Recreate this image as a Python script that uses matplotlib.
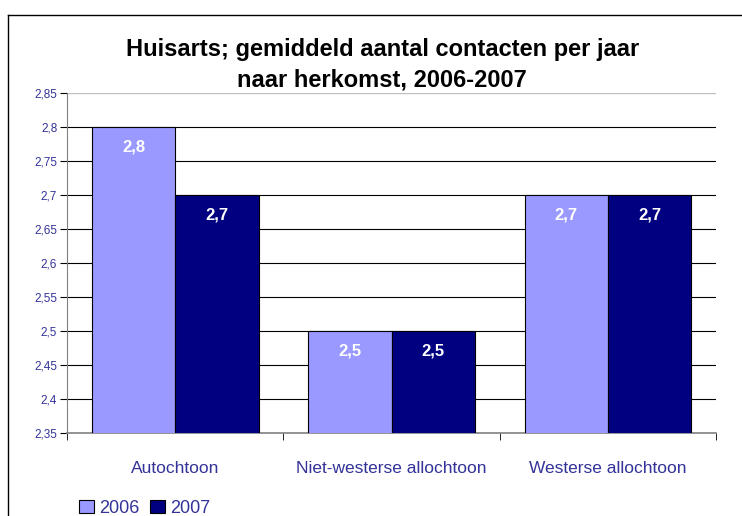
import matplotlib.pyplot as plt
import numpy as np
from matplotlib.lines import Line2D

# data
categories = ['Autochtoon', 'Niet-westerse allochtoon', 'Westerse allochtoon']
years = ['2006', '2007']
values_2006 = [2.8, 2.5, 2.7]
values_2007 = [2.7, 2.5, 2.7]
yticks = [2.35, 2.4, 2.45, 2.5, 2.55, 2.6, 2.65, 2.7, 2.75, 2.8, 2.85]

c2006 = '#9999FF'
c2007 = '#000080'
txt = '#333399'

plt.rcParams['font.family'] = ['Liberation Sans', 'DejaVu Sans']

fig = plt.figure(figsize=(7.42, 5.16), dpi=100)
ax = fig.add_axes([0.0903, 0.1609, 0.875, 0.659])

x = np.arange(len(categories))
w = 0.385
b1 = ax.bar(x - w / 2, values_2006, w, color=c2006, edgecolor='black', linewidth=0.8, zorder=3, label=years[0])
b2 = ax.bar(x + w / 2, values_2007, w, color=c2007, edgecolor='black', linewidth=0.8, zorder=3, label=years[1])

for bars in (b1, b2):
    for r in bars:
        h = r.get_height()
        ax.text(r.get_x() + r.get_width() / 2, h - 0.029, ('%.1f' % h).replace('.', ','),
                ha='center', va='center', color='white', fontsize=12, fontweight='bold', zorder=4)

ax.set_ylim(2.35, 2.85)
ax.set_xlim(-0.5, 2.5)
ax.set_yticks(yticks)
ax.set_yticklabels([('%g' % t).replace('.', ',') for t in yticks], color=txt, fontsize=8.5)
for t in yticks[1:-1]:
    ax.axhline(t, color='black', linewidth=0.8, zorder=1)
ax.axhline(2.85, color='#c0c0c0', linewidth=1, zorder=1)

ax.set_xticks(x)
ax.set_xticklabels(categories, color=txt, fontsize=12.5)
ax.tick_params(axis='x', length=0, pad=20)
ax.set_xticks([-0.5, 0.5, 1.5, 2.5], minor=True)
ax.tick_params(axis='x', which='minor', length=5, color='black', direction='out')
ax.tick_params(axis='y', length=5, color='black', direction='out', pad=2)

for s in ['top', 'right']:
    ax.spines[s].set_visible(False)
ax.spines['left'].set_color('#808080')
ax.spines['bottom'].set_color('#808080')
ax.spines['bottom'].set_linewidth(1.2)

fig.text(0.515, 0.875, 'Huisarts; gemiddeld aantal contacten per jaar\nnaar herkomst, 2006-2007',
         ha='center', va='center', fontsize=17, fontweight='bold', linespacing=1.4)

handles = [plt.Rectangle((0, 0), 1, 1, facecolor=c2006, edgecolor='black', linewidth=0.8),
           plt.Rectangle((0, 0), 1, 1, facecolor=c2007, edgecolor='black', linewidth=0.8)]
leg = fig.legend(handles, years, loc='lower left', bbox_to_anchor=(0.085, -0.033), ncol=2,
                 frameon=False, fontsize=13, handlelength=0.8, handleheight=0.8,
                 handletextpad=0.3, columnspacing=0.6)
for t in leg.get_texts():
    t.set_color(txt)

# chart border
fig.add_artist(Line2D([0.0108, 1.0], [0.971, 0.971], color='black', linewidth=1, transform=fig.transFigure))
fig.add_artist(Line2D([0.0108, 0.0108], [0.971, 0.0], color='black', linewidth=1, transform=fig.transFigure))

fig.savefig('out.png', dpi=100)
